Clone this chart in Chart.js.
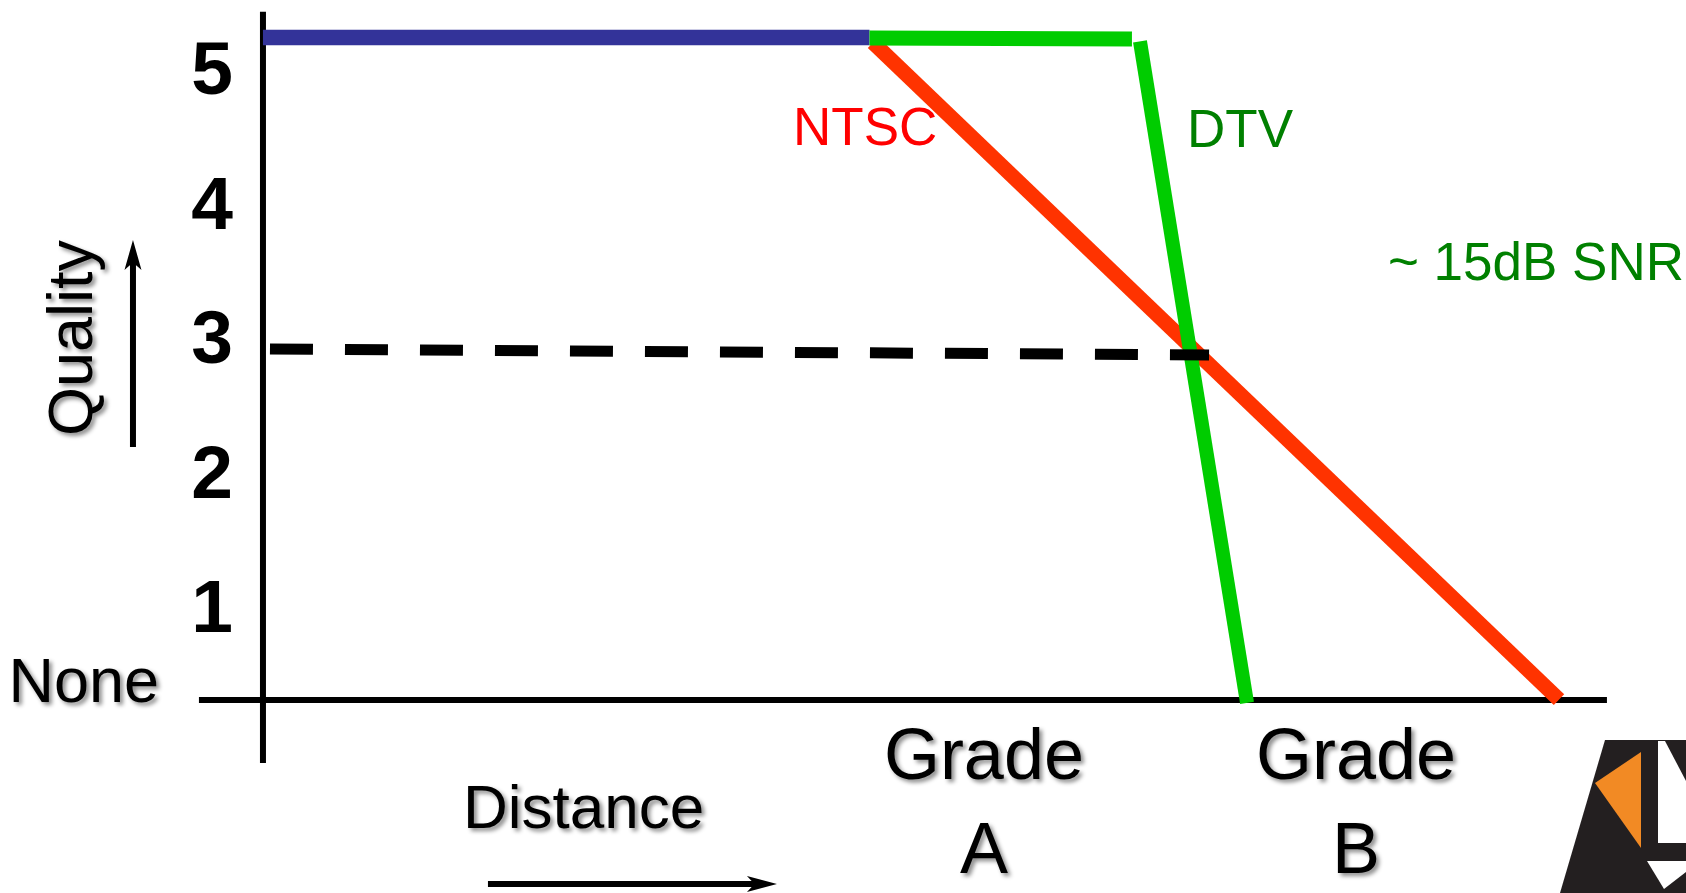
<!DOCTYPE html>
<html>
<head>
<meta charset="utf-8">
<script src="https://cdn.jsdelivr.net/npm/chart.js@4/dist/chart.umd.min.js"></script>
<style>
  html, body { margin: 0; padding: 0; background: #ffffff; }
  canvas { display: block; }
</style>
</head>
<body>
<canvas id="c" width="1686" height="893"></canvas>
<script>
// ---- Data (x = distance units, y = quality units) ----
const yTickValues = [1, 2, 3, 4, 5];
const noneLabel = 'None';

const blueX = [0, 46.8];
const blueY = [5.22, 5.22];

const dtvFlatX = [46.8, 67.05];
const dtvFlatY = [5.215, 5.208];

const dtvDropX = [67.67, 75.93];
const dtvDropY = [5.19, 0.275];

const ntscX = [47.07, 100];
const ntscY = [5.182, 0.3];

const thresholdX = [0.54, 73.0];
const thresholdY = [2.905, 2.86];

const baseAxisX = [-4.94, 103.7];
const baseAxisY = [0.297, 0.297];
const qualAxisX = [0, 0];
const qualAxisY = [5.41, -0.171];

function pts(xs, ys) { return xs.map((x, i) => ({ x: x, y: ys[i] })); }

const FONT = '"Liberation Sans", Arial, Helvetica, sans-serif';

function line(data, color, width, extra) {
  return Object.assign({
    data: data, borderColor: color, borderWidth: width, pointRadius: 0,
    tension: 0, fill: false, borderCapStyle: 'butt', borderJoinStyle: 'miter'
  }, extra || {});
}

const annotations = {
  id: 'annotations',
  afterDatasetsDraw(chart) {
    const ctx = chart.ctx;
    const xs = chart.scales.x, ys = chart.scales.y;
    const X = v => xs.getPixelForValue(v);
    const Y = v => ys.getPixelForValue(v);

    function text(str, x, y, size, color, align, opts) {
      opts = opts || {};
      ctx.save();
      ctx.font = (opts.bold ? 'bold ' : '') + size + 'px ' + FONT;
      ctx.fillStyle = color;
      ctx.textAlign = align;
      ctx.textBaseline = opts.baseline || 'alphabetic';
      if (opts.shadow) {
        ctx.shadowColor = 'rgba(0,0,0,0.45)';
        ctx.shadowOffsetX = 3; ctx.shadowOffsetY = 3; ctx.shadowBlur = 4;
      }
      ctx.translate(x, y);
      if (opts.rotate) ctx.rotate(opts.rotate);
      ctx.fillText(str, 0, 0);
      ctx.restore();
    }
    function arrow(x1, y1, x2, y2, w, headLen, headW) {
      const ang = Math.atan2(y2 - y1, x2 - x1);
      ctx.save();
      ctx.strokeStyle = '#000'; ctx.fillStyle = '#000'; ctx.lineWidth = w;
      ctx.beginPath();
      ctx.moveTo(x1, y1);
      ctx.lineTo(x2 - Math.cos(ang) * headLen * 0.7, y2 - Math.sin(ang) * headLen * 0.7);
      ctx.stroke();
      ctx.translate(x2, y2); ctx.rotate(ang);
      ctx.beginPath();
      ctx.moveTo(0, 0);
      ctx.lineTo(-headLen, -headW / 2);
      ctx.lineTo(-headLen * 0.75, 0);
      ctx.lineTo(-headLen, headW / 2);
      ctx.closePath(); ctx.fill();
      ctx.restore();
    }

    // y tick labels (baseline placed just below each quality level)
    yTickValues.forEach(v => text(String(v), X(-2.31), Y(v - 0.2), 75, '#000', 'right', { bold: true }));
    text(noneLabel, X(-8.02), Y(0.282), 63, '#000', 'right', { shadow: true });

    // axis titles
    text('Quality', X(-13.19), Y(2.987), 63, '#000', 'center', { shadow: true, rotate: -Math.PI / 2 });
    arrow(X(-10.03), Y(2.177), X(-10.03), Y(3.715), 6, 30, 17);
    text('Distance', X(15.43), Y(-0.654), 62, '#000', 'left', { shadow: true });
    arrow(X(17.36), Y(-1.07), X(39.66), Y(-1.07), 6, 30, 16);

    // grade labels
    text('Grade', X(55.63), Y(-0.29), 72, '#000', 'center', { shadow: true });
    text('A', X(55.63), Y(-0.988), 72, '#000', 'center', { shadow: true });
    text('Grade', X(84.34), Y(-0.29), 72, '#000', 'center', { shadow: true });
    text('B', X(84.34), Y(-0.988), 72, '#000', 'center', { shadow: true });

    // series labels
    text('NTSC', X(40.9), Y(4.42), 53, '#ff0000', 'left');
    text('DTV', X(71.3), Y(4.406), 53, '#008000', 'left');
    text('~ 15dB SNR', X(86.8), Y(3.418), 53, '#008000', 'left');

    // logo (decorative, bottom-right corner)
    ctx.save();
    ctx.fillStyle = '#231f20';
    ctx.beginPath();
    ctx.moveTo(1605, 740); ctx.lineTo(1686, 740); ctx.lineTo(1686, 893); ctx.lineTo(1560, 893);
    ctx.closePath(); ctx.fill();
    ctx.fillStyle = '#f28a24';
    ctx.beginPath();
    ctx.moveTo(1595, 783); ctx.lineTo(1641, 752); ctx.lineTo(1641, 848);
    ctx.closePath(); ctx.fill();
    ctx.fillStyle = '#ffffff';
    ctx.beginPath();
    ctx.moveTo(1658, 741); ctx.lineTo(1665, 741); ctx.lineTo(1686, 781); ctx.lineTo(1686, 843); ctx.lineTo(1658, 843);
    ctx.closePath(); ctx.fill();
    ctx.beginPath();
    ctx.moveTo(1647, 861); ctx.lineTo(1686, 861); ctx.lineTo(1686, 872); ctx.lineTo(1664, 889);
    ctx.closePath(); ctx.fill();
    ctx.restore();
  }
};

new Chart(document.getElementById('c'), {
  type: 'line',
  data: {
    datasets: [
      line(pts(thresholdX, thresholdY), '#000000', 11, { borderDash: [43, 32] }),
      line(pts(dtvDropX, dtvDropY), '#00cc00', 14),
      line(pts(dtvFlatX, dtvFlatY), '#00cc00', 15),
      line(pts(blueX, blueY), '#333399', 15.5),
      line(pts(ntscX, ntscY), '#ff3300', 15),
      line(pts(baseAxisX, baseAxisY), '#000000', 6),
      line(pts(qualAxisX, qualAxisY), '#000000', 6)
    ]
  },
  options: {
    responsive: false,
    animation: false,
    events: [],
    layout: { padding: 0 },
    plugins: { legend: { display: false }, tooltip: { enabled: false }, title: { display: false } },
    scales: {
      x: { type: 'linear', min: -20.29, max: 109.8, display: false },
      y: { type: 'linear', min: -1.137, max: 5.498, display: false }
    }
  },
  plugins: [annotations]
});
</script>
</body>
</html>
